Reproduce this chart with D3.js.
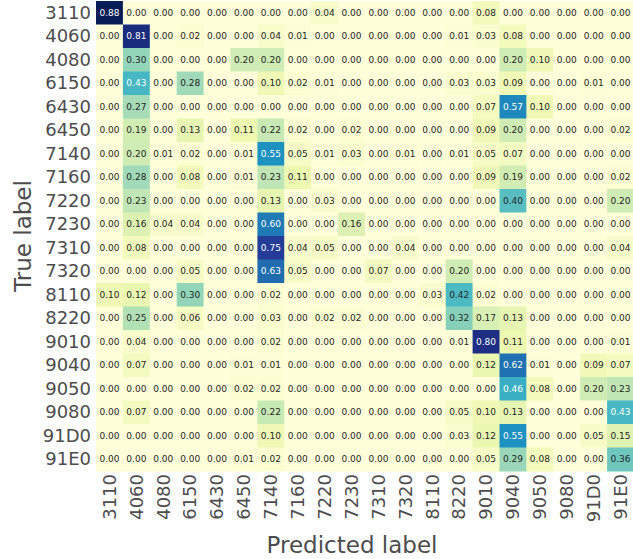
<!DOCTYPE html>
<html>
<head>
<meta charset="utf-8">
<script src="https://cdn.jsdelivr.net/npm/d3@7"></script>
<style>
  html, body { margin: 0; padding: 0; background: #fff; }
  svg { display: block; font-family: "DejaVu Sans", sans-serif; }
</style>
</head>
<body>
<svg id="chart" width="633" height="559"></svg>
<script>
const labels = ["3110","4060","4080","6150","6430","6450","7140","7160","7220","7230",
                "7310","7320","8110","8220","9010","9040","9050","9080","91D0","91E0"];

const r3110 = [0.88,0.00,0.00,0.00,0.00,0.00,0.00,0.00,0.04,0.00, 0.00,0.00,0.00,0.00,0.08,0.00,0.00,0.00,0.00,0.00];
const r4060 = [0.00,0.81,0.00,0.02,0.00,0.00,0.04,0.01,0.00,0.00, 0.00,0.00,0.00,0.01,0.03,0.08,0.00,0.00,0.00,0.00];
const r4080 = [0.00,0.30,0.00,0.00,0.00,0.20,0.20,0.00,0.00,0.00, 0.00,0.00,0.00,0.00,0.00,0.20,0.10,0.00,0.00,0.00];
const r6150 = [0.00,0.43,0.00,0.28,0.00,0.00,0.10,0.02,0.01,0.00, 0.00,0.00,0.00,0.03,0.03,0.09,0.00,0.00,0.01,0.00];
const r6430 = [0.00,0.27,0.00,0.00,0.00,0.00,0.00,0.00,0.00,0.00, 0.00,0.00,0.00,0.00,0.07,0.57,0.10,0.00,0.00,0.00];
const r6450 = [0.00,0.19,0.00,0.13,0.00,0.11,0.22,0.02,0.00,0.02, 0.00,0.00,0.00,0.00,0.09,0.20,0.00,0.00,0.00,0.02];
const r7140 = [0.00,0.20,0.01,0.02,0.00,0.01,0.55,0.05,0.01,0.03, 0.00,0.01,0.00,0.01,0.05,0.07,0.00,0.00,0.00,0.00];
const r7160 = [0.00,0.28,0.00,0.08,0.00,0.01,0.23,0.11,0.00,0.00, 0.00,0.00,0.00,0.00,0.09,0.19,0.00,0.00,0.00,0.02];
const r7220 = [0.00,0.23,0.00,0.00,0.00,0.00,0.13,0.00,0.03,0.00, 0.00,0.00,0.00,0.00,0.00,0.40,0.00,0.00,0.00,0.20];
const r7230 = [0.00,0.16,0.04,0.04,0.00,0.00,0.60,0.00,0.00,0.16, 0.00,0.00,0.00,0.00,0.00,0.00,0.00,0.00,0.00,0.00];
const r7310 = [0.00,0.08,0.00,0.00,0.00,0.00,0.75,0.04,0.05,0.00, 0.00,0.04,0.00,0.00,0.00,0.00,0.00,0.00,0.00,0.04];
const r7320 = [0.00,0.00,0.00,0.05,0.00,0.00,0.63,0.05,0.00,0.00, 0.07,0.00,0.00,0.20,0.00,0.00,0.00,0.00,0.00,0.00];
const r8110 = [0.10,0.12,0.00,0.30,0.00,0.00,0.02,0.00,0.00,0.00, 0.00,0.00,0.03,0.42,0.02,0.00,0.00,0.00,0.00,0.00];
const r8220 = [0.00,0.25,0.00,0.06,0.00,0.00,0.03,0.00,0.02,0.02, 0.00,0.00,0.00,0.32,0.17,0.13,0.00,0.00,0.00,0.00];
const r9010 = [0.00,0.04,0.00,0.00,0.00,0.00,0.02,0.00,0.00,0.00, 0.00,0.00,0.00,0.01,0.80,0.11,0.00,0.00,0.00,0.01];
const r9040 = [0.00,0.07,0.00,0.00,0.00,0.01,0.01,0.00,0.00,0.00, 0.00,0.00,0.00,0.00,0.12,0.62,0.01,0.00,0.09,0.07];
const r9050 = [0.00,0.00,0.00,0.00,0.00,0.02,0.02,0.00,0.00,0.00, 0.00,0.00,0.00,0.00,0.00,0.46,0.08,0.00,0.20,0.23];
const r9080 = [0.00,0.07,0.00,0.00,0.00,0.00,0.22,0.00,0.00,0.00, 0.00,0.00,0.00,0.05,0.10,0.13,0.00,0.00,0.00,0.43];
const r91D0 = [0.00,0.00,0.00,0.00,0.00,0.00,0.10,0.00,0.00,0.00, 0.00,0.00,0.00,0.03,0.12,0.55,0.00,0.00,0.05,0.15];
const r91E0 = [0.00,0.00,0.00,0.00,0.00,0.01,0.02,0.00,0.00,0.00, 0.00,0.00,0.00,0.00,0.05,0.29,0.08,0.00,0.00,0.36];

const rows = [r3110,r4060,r4080,r6150,r6430,r6450,r7140,r7160,r7220,r7230,
              r7310,r7320,r8110,r8220,r9010,r9040,r9050,r9080,r91D0,r91E0];

const xTitle = "Predicted label";
const yTitle = "True label";

const cells = [];
rows.forEach((row, i) => row.forEach((v, j) => cells.push({t: labels[i], p: labels[j], v})));

const svg = d3.select("#chart");
const margin = {left: 96, top: 1, right: -1, bottom: 88};
const W = 633, H = 559;
const gw = W - margin.left - margin.right;
const gh = H - margin.top - margin.bottom;

const x = d3.scaleBand().domain(labels).range([margin.left, margin.left + gw]);
const y = d3.scaleBand().domain(labels).range([margin.top, margin.top + gh]);

const vmax = d3.max(cells, d => d.v);
const stops = ['#ffffd9','#edf8b1','#c7e9b4','#7fcdbb','#41b6c4','#1d91c0','#225ea8','#253494','#081d58'];
const color = d3.scaleLinear()
  .domain(stops.map((_, i) => vmax * i / (stops.length - 1)))
  .range(stops)
  .interpolate(d3.interpolateRgb)
  .clamp(true);

function lum(c) {
  const rgb = d3.rgb(c);
  const f = u => { u /= 255; return u <= 0.03928 ? u / 12.92 : Math.pow((u + 0.055) / 1.055, 2.4); };
  return 0.2126 * f(rgb.r) + 0.7152 * f(rgb.g) + 0.0722 * f(rgb.b);
}

const g = svg.append("g");
g.selectAll("rect").data(cells).join("rect")
  .attr("x", d => x(d.p))
  .attr("y", d => y(d.t))
  .attr("width", x.bandwidth() + 0.5)
  .attr("height", y.bandwidth() + 0.5)
  .attr("fill", d => color(d.v));

g.selectAll("text").data(cells).join("text")
  .attr("x", d => x(d.p) + x.bandwidth() / 2)
  .attr("y", d => y(d.t) + y.bandwidth() / 2)
  .attr("text-anchor", "middle")
  .attr("dominant-baseline", "central")
  .attr("font-size", 9)
  .attr("fill", d => lum(color(d.v)) > 0.40 ? "#262626" : "#ffffff")
  .text(d => d.v.toFixed(2));

// Axes
const yAxis = d3.axisLeft(y).tickSize(0).tickPadding(5);
const yg = svg.append("g").attr("transform", `translate(${margin.left},0)`).call(yAxis);
yg.select(".domain").remove();
yg.selectAll("text").attr("font-size", 18).attr("fill", "#4d4d4d")
  .attr("font-family", "DejaVu Sans, sans-serif");

const xAxis = d3.axisBottom(x).tickSize(0).tickPadding(4);
const xg = svg.append("g").attr("transform", `translate(0,${margin.top + gh})`).call(xAxis);
xg.select(".domain").remove();
xg.selectAll("text")
  .attr("font-size", 18).attr("fill", "#4d4d4d")
  .attr("font-family", "DejaVu Sans, sans-serif")
  .attr("text-anchor", "end")
  .attr("dy", "0.35em")
  .attr("transform", "rotate(-90)")
  .attr("x", -3)
  .attr("y", 0);

svg.append("text")
  .attr("x", 352).attr("y", 553)
  .attr("text-anchor", "middle")
  .attr("font-size", 23).attr("fill", "#4d4d4d")
  .text(xTitle);

svg.append("text")
  .attr("transform", `translate(31,${margin.top + gh / 2}) rotate(-90)`)
  .attr("text-anchor", "middle")
  .attr("font-size", 23).attr("fill", "#4d4d4d")
  .text(yTitle);
</script>
</body>
</html>
